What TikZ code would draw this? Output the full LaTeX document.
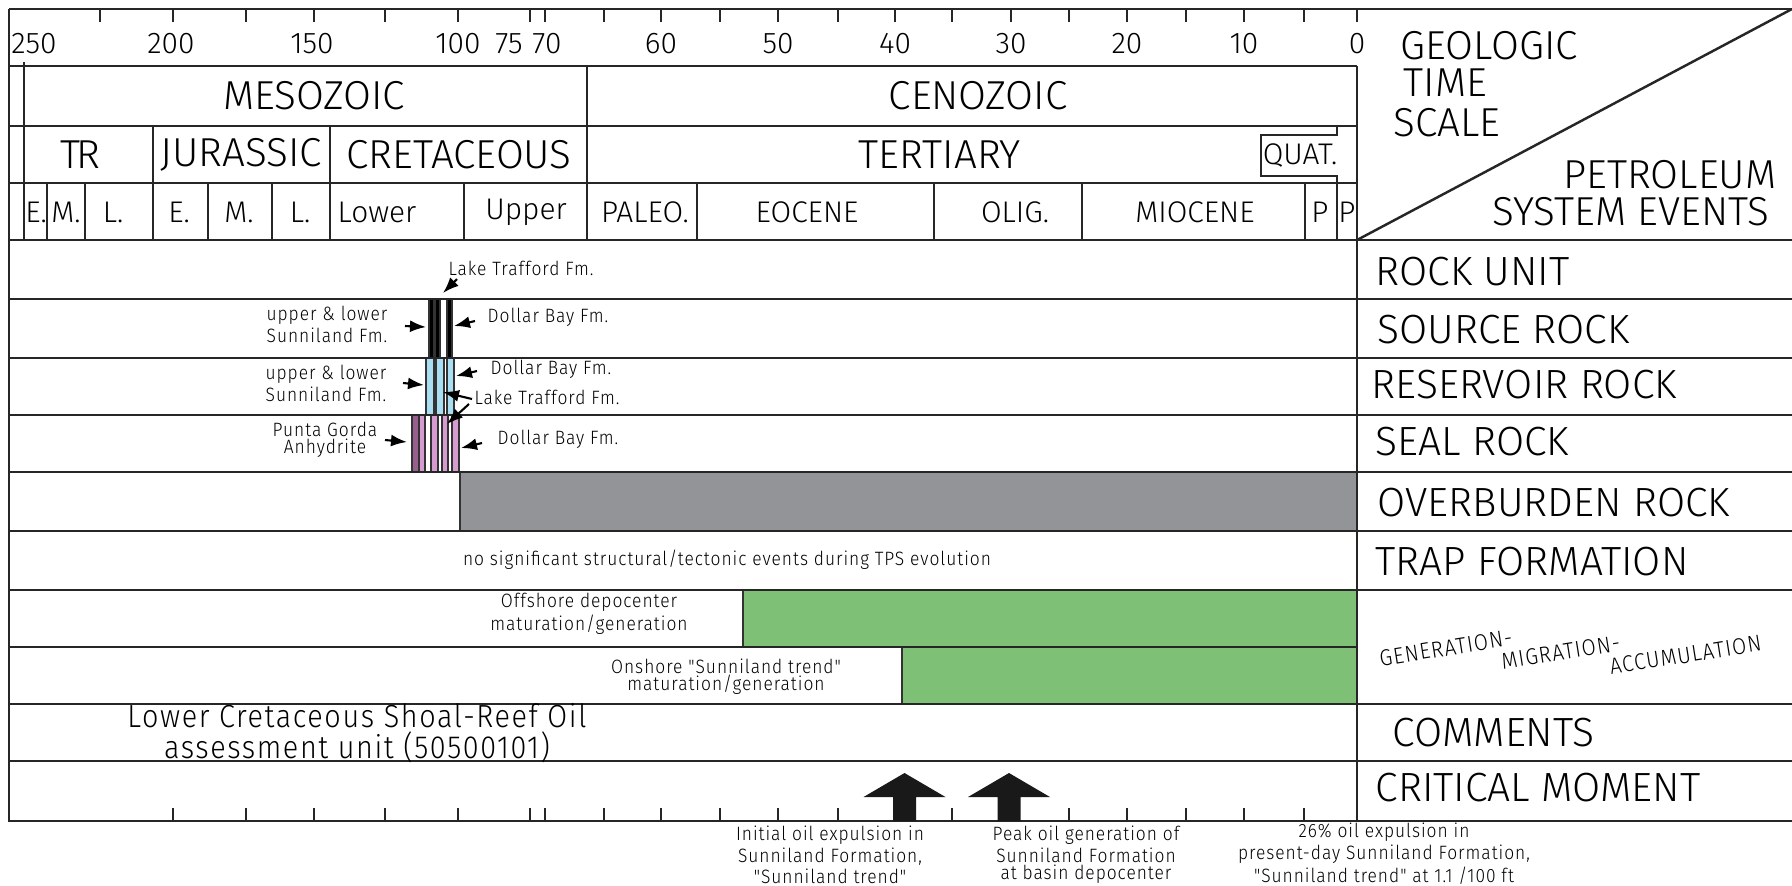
\documentclass[tikz,border=0pt]{standalone}
\usepackage{fontspec}
\setmainfont{Fira Sans Light}
\newfontfamily\annofont{Fira Sans Light}[FakeStretch=0.9,LetterSpace=5]
\usetikzlibrary{positioning,calc,arrows.meta}
\definecolor{resblue}{RGB}{170,222,243}
\definecolor{sealpink}{RGB}{214,155,208}
\definecolor{sealdark}{RGB}{152,94,142}
\definecolor{gengreen}{RGB}{126,192,117}
\definecolor{burdengray}{RGB}{147,148,152}
\tikzset{rule/.style={draw=black!85,line width=0.7pt}}
\tikzset{thinrule/.style={draw=black!85,line width=0.5pt}}
\tikzset{barbox/.style={draw=black!80,line width=0.3pt}}
\tikzset{agelbl/.style={font=\fontsize{8.5}{9}\selectfont,inner sep=0pt}}
\tikzset{bigname/.style={font=\fontsize{11.5}{12}\selectfont,inner sep=0pt}}
\tikzset{epochname/.style={font=\fontsize{8.5}{9}\selectfont,inner sep=0pt}}
\tikzset{eventname/.style={font=\fontsize{11.6}{13}\selectfont,anchor=west,inner sep=0pt}}
\tikzset{anno/.style={font=\annofont\fontsize{5.5}{4.9}\selectfont,align=center,inner sep=0pt}}
\tikzset{gmaname/.style={font=\annofont\fontsize{6.5}{6.3}\selectfont,anchor=north west,align=left,inner sep=0pt,rotate=9}}
\tikzset{fmarrow/.style={-{Latex[length=1.6mm,width=1.2mm]},line width=0.6pt}}

\begin{document}
\begin{tikzpicture}
\useasboundingbox (0,0) rectangle (17.92,-8.85);

% event fills
\filldraw[barbox,fill=burdengray] (4.60,-4.72) rectangle (13.57,-5.31);
\filldraw[barbox,fill=gengreen] (7.43,-5.90) rectangle (13.57,-6.47);
\filldraw[barbox,fill=gengreen] (9.02,-6.47) rectangle (13.57,-7.04);

% source, reservoir and seal columns
\foreach \a/\b in {4.29/4.34,4.35/4.40,4.47/4.52}
  \filldraw[barbox,fill=black] (\a,-2.99) rectangle (\b,-3.58);
\foreach \a/\b in {4.26/4.34,4.36/4.44,4.47/4.54}
  \filldraw[barbox,fill=resblue] (\a,-3.58) rectangle (\b,-4.15);
\filldraw[barbox,fill=sealdark] (4.12,-4.15) rectangle (4.19,-4.72);
\foreach \a/\b in {4.19/4.25,4.31/4.38,4.42/4.48,4.52/4.59}
  \filldraw[barbox,fill=sealpink] (\a,-4.15) rectangle (\b,-4.72);
\foreach \a/\b in {4.25/4.31,4.38/4.42,4.48/4.52}
  \draw[barbox] (\a,-4.15) rectangle (\b,-4.72);

% frame and rows
\draw[rule] (0.09,-0.09) -- (17.92,-0.09);
\draw[rule] (0.09,-0.09) -- (0.09,-8.21) -- (17.92,-8.21);
\foreach \y in {0.66,1.26,1.83}
  \draw[rule] (0.09,-\y) -- (13.57,-\y);
\foreach \y in {2.40,2.99,3.58,4.15,4.72,5.31,5.90,7.04,7.61}
  \draw[rule] (0.09,-\y) -- (17.92,-\y);
\draw[rule] (0.09,-6.47) -- (13.57,-6.47);
\draw[rule] (13.57,-0.66) -- (13.57,-8.21);
\draw[rule] (13.57,-2.40) -- (17.92,-0.09);

% time scale cells
\draw[thinrule] (0.24,-0.62) -- (0.24,-2.40);
\draw[thinrule] (5.87,-0.66) -- (5.87,-2.40);
\foreach \x in {1.53,3.30}
  \draw[thinrule] (\x,-1.26) -- (\x,-2.40);
\foreach \x in {0.47,0.85,2.08,2.72,4.64,6.97,9.34,10.82,13.05}
  \draw[thinrule] (\x,-1.83) -- (\x,-2.40);
\draw[thinrule] (13.37,-1.26) -- (13.37,-1.35) -- (12.61,-1.35) -- (12.61,-1.76) -- (13.37,-1.76) -- (13.37,-2.40);

% ticks
\foreach \x in {1.00,1.73,2.46,3.14,3.85,4.58,5.30,5.45,6.04,6.61,7.20,7.78,8.38,8.95,9.52,10.11,10.69,11.27,11.86,12.44,13.04,13.57}
  \draw[thinrule] (\x,-0.09) -- (\x,-0.22);
\foreach \x in {1.73,2.46,3.14,3.85,4.58,5.30,5.45,6.04,6.61,7.20,7.78,8.38,9.52,10.69,11.27,11.86,12.44,13.04}
  \draw[thinrule] (\x,-8.21) -- (\x,-8.08);

\foreach \t/\x in {250/0.34,200/1.71,150/3.12,100/4.58,75/5.09,70/5.47,60/6.61,50/7.78,40/8.95,30/10.11,20/11.27,10/12.44,0/13.57}
  \node[agelbl] (age\t) at (\x,-0.44) {\t};

\node[bigname] (meso) at (3.14,-0.96) {MESOZOIC};
\node[bigname] (ceno) at (9.78,-0.96) {CENOZOIC};
\node[bigname] (tria) at (0.80,-1.55) {T\kern-0.1em R};
\node[bigname] (jura) at (2.41,-1.55) {JURASSIC};
\node[bigname] (cret) at (4.59,-1.55) {CRETACEOUS};
\node[bigname] (tert) at (9.40,-1.55) {TERTIARY};
\node[epochname] (quat) at (13.00,-1.55) {QUAT.};

\foreach \t/\x [count=\i] in {E./0.36,M./0.66,L./1.13,E./1.79,M./2.39,L./3.00,Lower/3.77,Upper/5.26,PALEO./6.45,EOCENE/8.07,OLIG./10.15,MIOCENE/11.95,P/13.20,P/13.47}
  \node[epochname] (epoch\i) at (\x,-2.12) {\t};

% corner box
\node[bigname,anchor=west] (geo) at (14.00,-0.46) {GEOLOGIC};
\node[bigname,anchor=west] (time) at (14.03,-0.83) {TIME};
\node[bigname,anchor=west] (scale) at (13.93,-1.23) {SCALE};
\node[bigname,anchor=east] (petro) at (17.77,-1.75) {PETROLEUM};
\node[bigname,anchor=east] (events) at (17.70,-2.12) {SYSTEM EVENTS};

% event names
\node[eventname] (rock) at (13.75,-2.72) {ROCK UNIT};
\node[eventname] (source) at (13.77,-3.30) {SOURCE ROCK};
\node[eventname] (reservoir) at (13.71,-3.85) {RESERVOIR ROCK};
\node[eventname] (seal) at (13.75,-4.42) {SEAL ROCK};
\node[eventname] (burden) at (13.77,-5.03) {OVERBURDEN ROCK};
\node[eventname] (trapname) at (13.75,-5.62) {TRAP FORMATION};
\node[gmaname] (gma) at (13.776,-6.50) {GENERATION-\\\hspace*{1.20cm}MIGRATION-\\\hspace*{2.26cm}ACCUMULATION};
\node[eventname] (comments) at (13.92,-7.33) {COMMENTS};
\node[eventname] (critical) at (13.75,-7.88) {CRITICAL MOMENT};

% formation labels
\node[anno] (trafford1) at (5.21,-2.68) {Lake Trafford Fm.};
\node[anno] (sunni1) at (3.27,-3.24) {upper \& lower\\Sunniland Fm.};
\node[anno] (dollar1) at (5.48,-3.17) {Dollar Bay Fm.};
\node[anno] (sunni2) at (3.26,-3.83) {upper \& lower\\Sunniland Fm.};
\node[anno] (dollar2) at (5.51,-3.69) {Dollar Bay Fm.};
\node[anno] (trafford2) at (5.47,-3.97) {Lake Trafford Fm.};
\node[anno] (punta) at (3.25,-4.40) {Punta Gorda\\Anhydrite};
\node[anno] (dollar3) at (5.58,-4.39) {Dollar Bay Fm.};

\coordinate (t1a) at (4.57,-2.79); \coordinate (t1b) at (4.43,-2.93);
\coordinate (s1a) at (4.05,-3.26); \coordinate (s1b) at (4.26,-3.27);
\coordinate (d1a) at (4.75,-3.21); \coordinate (d1b) at (4.54,-3.26);
\coordinate (s2a) at (4.03,-3.83); \coordinate (s2b) at (4.24,-3.85);
\coordinate (d2a) at (4.77,-3.71); \coordinate (d2b) at (4.56,-3.76);
\coordinate (t2a) at (4.72,-3.99); \coordinate (t2b) at (4.43,-3.92);
\coordinate (t3a) at (4.69,-4.04); \coordinate (t3b) at (4.47,-4.24);
\coordinate (pga) at (3.85,-4.40); \coordinate (pgb) at (4.07,-4.42);
\coordinate (d3a) at (4.82,-4.43); \coordinate (d3b) at (4.61,-4.48);
\foreach \p in {t1,s1,d1,s2,d2,t2,t3,pg,d3}
  \draw[fmarrow] (\p a) -- (\p b);

% other event texts
\node[anno] (notrap) at (7.27,-5.60) {no significant structural/tectonic events during TPS evolution};
\node[anno] (offshore) at (5.89,-6.14) {Offshore depocenter\\maturation/generation};
\node[anno] (onshore) at (7.26,-6.77) {Onshore "Sunniland trend"\\maturation/generation};
\node[anno,font=\annofont\fontsize{9.1}{7.7}\selectfont] (aunit) at (3.57,-7.33) {Lower Cretaceous Shoal-Reef Oil\\assessment unit (50500101)};

% critical moment arrows
\foreach \c in {9.045,10.09}
  \fill[black!90] ({\c-0.115},-8.21) -- ({\c-0.115},-7.97) -- ({\c-0.41},-7.97) -- (\c,-7.73)
    -- ({\c+0.41},-7.97) -- ({\c+0.115},-7.97) -- ({\c+0.115},-8.21) -- cycle;

\node[anno] (initial) at (8.30,-8.55) {Initial oil expulsion in\\Sunniland Formation,\\"Sunniland trend"};
\node[anno] (peak) at (10.86,-8.55) {Peak oil generation of\\Sunniland Formation\\at basin depocenter};
\node[anno] (present) at (13.84,-8.54) {26\% oil expulsion in\\present-day Sunniland Formation,\\"Sunniland trend" at 1.1 /100 ft};
\end{tikzpicture}
\end{document}
